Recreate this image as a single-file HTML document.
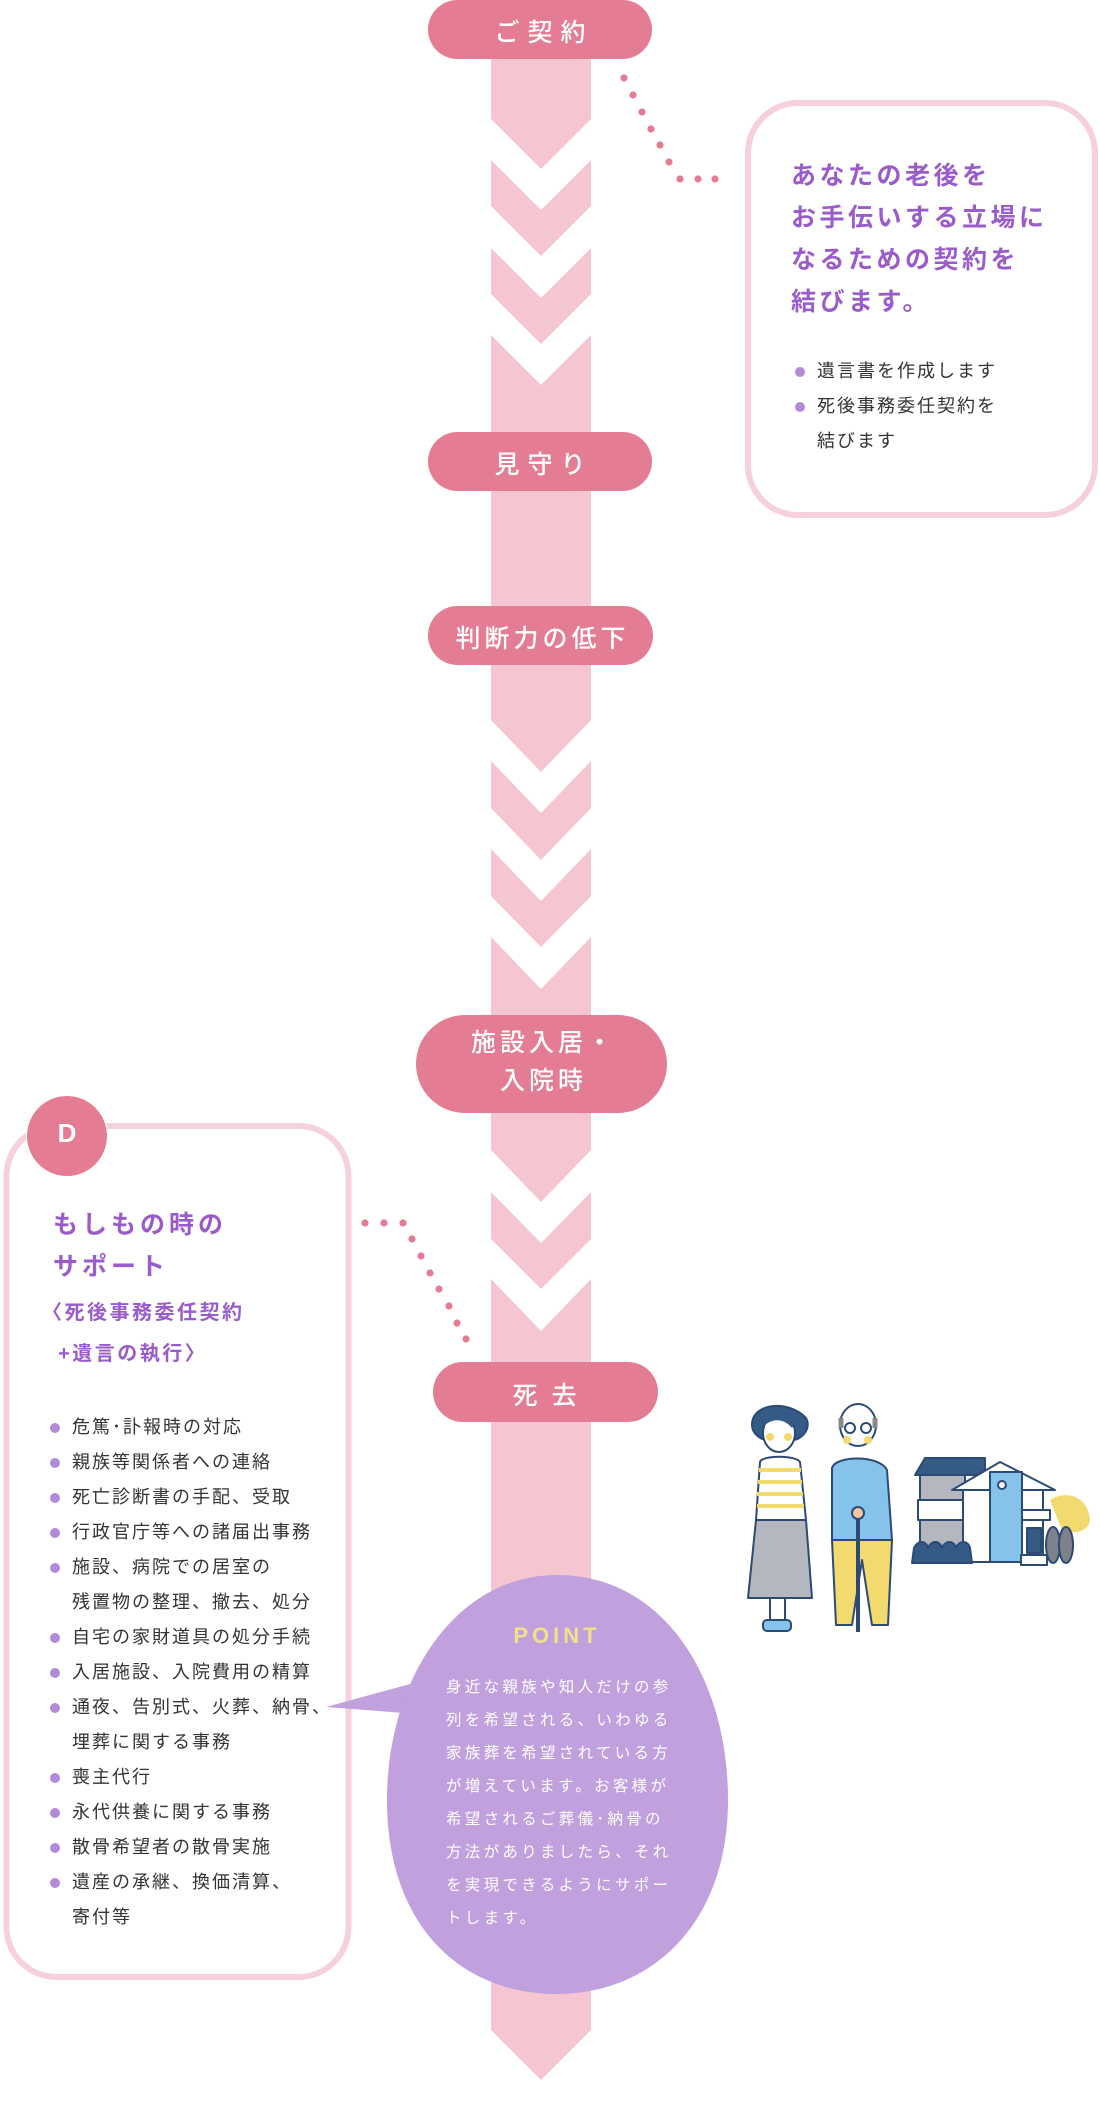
<!DOCTYPE html>
<html><head><meta charset="utf-8"><style>
html,body{margin:0;padding:0;background:#fff;}
body{width:1100px;height:2122px;position:relative;overflow:hidden;font-family:"Liberation Sans","Noto Sans CJK JP",sans-serif;}
svg{position:absolute;left:0;top:0;}
.t{position:absolute;white-space:nowrap;}
.pill{position:absolute;color:#fff;font-weight:500;font-size:25px;text-align:center;}
.h{color:#9a5cca;font-weight:700;}
.list{position:absolute;font-size:18px;letter-spacing:2px;color:#333;line-height:35px;white-space:nowrap;}
.list div{position:relative;}
.list div.b:before{content:"";position:absolute;left:-22px;top:13px;width:10px;height:10px;border-radius:50%;background:#b18bd9;}
.pt{position:absolute;left:446px;width:240px;color:#fff;font-size:15.5px;letter-spacing:3.3px;white-space:nowrap;}
</style></head><body>
<svg width="1100" height="2122" viewBox="0 0 1100 2122">
<g fill="#f5c6d2">
<polygon points="491,30 591,30 591,119 541,169 491,119"/>
<polygon points="491,160 541,210 591,160 591,206 541,256 491,206"/>
<polygon points="491,248 541,298 591,248 591,294 541,344 491,294"/>
<polygon points="491,335 541,385 591,335 591,640 491,640"/>
<polygon points="491,640 591,640 591,720 541,772 491,720"/>
<polygon points="491,761 541,813 591,761 591,808 541,860 491,808"/>
<polygon points="491,849 541,901 591,849 591,896 541,947 491,896"/>
<polygon points="491,937 541,989 591,937 591,1040 491,1040"/>
<polygon points="491,1100 591,1100 591,1150 541,1202 491,1150"/>
<polygon points="491,1192 541,1243 591,1192 591,1239 541,1289 491,1239"/>
<polygon points="491,1279 541,1331 591,1279 591,2030 541,2080 491,2030"/>
</g>
<g fill="#e47d93">
<rect x="428" y="0" width="224" height="59" rx="29.5"/>
<rect x="428" y="432" width="224" height="59" rx="29.5"/>
<rect x="428" y="606" width="225" height="59" rx="29.5"/>
<rect x="416" y="1015" width="251" height="98" rx="49"/>
<rect x="433" y="1362" width="225" height="60" rx="30"/>
<circle cx="624" cy="78" r="3.6"/><circle cx="633" cy="95" r="3.6"/><circle cx="642" cy="112" r="3.6"/><circle cx="651" cy="129" r="3.6"/><circle cx="660" cy="145" r="3.6"/><circle cx="669" cy="162" r="3.6"/>
<circle cx="680" cy="179" r="3.6"/><circle cx="698" cy="179" r="3.6"/><circle cx="715" cy="179" r="3.6"/>
<circle cx="365" cy="1223" r="3.6"/><circle cx="384" cy="1223" r="3.6"/><circle cx="403" cy="1223" r="3.6"/>
<circle cx="412" cy="1239" r="3.6"/><circle cx="421" cy="1256" r="3.6"/><circle cx="430" cy="1273" r="3.6"/><circle cx="439" cy="1289" r="3.6"/><circle cx="449" cy="1306" r="3.6"/><circle cx="457" cy="1323" r="3.6"/><circle cx="466" cy="1339" r="3.6"/>
</g>
<rect x="748" y="103" width="347" height="412" rx="50" fill="#fff" stroke="#f6d0da" stroke-width="6"/>
<rect x="6.5" y="1126" width="342" height="851" rx="50" fill="#fff" stroke="#f6d0da" stroke-width="6"/>
<circle cx="67" cy="1136" r="41" fill="#fff"/>
<circle cx="67" cy="1136" r="40" fill="#e47d93"/>
<polygon points="326,1707 410,1684 404,1713" fill="#c0a0dd"/>
<path d="M557,1575 C665,1575 728,1680 728,1800 C728,1925 650,1994 557,1994 C460,1994 387,1925 387,1800 C387,1680 455,1575 557,1575 Z" fill="#c0a0dd"/>
<g stroke="#2d4a75" stroke-width="2" stroke-linejoin="round">
<path d="M752,1425 C752,1402 790,1400 806,1418 C812,1430 800,1440 793,1440 L768,1440 C760,1440 752,1433 752,1425Z" fill="#345a86"/>
<ellipse cx="779" cy="1433" rx="16" ry="19" fill="#fff"/>
<path d="M764,1420 C770,1408 792,1408 796,1422 L792,1428 C784,1418 772,1418 764,1426Z" fill="#345a86" stroke="none"/>
<circle cx="770" cy="1437" r="4" fill="#f2da6e" stroke="none"/><circle cx="788" cy="1437" r="4" fill="#f2da6e" stroke="none"/>
<path d="M760,1462 C762,1455 796,1455 800,1462 L806,1520 L756,1520Z" fill="#fff"/>
<g stroke="#f2da6e" stroke-width="4"><line x1="759" y1="1470" x2="801" y2="1470"/><line x1="758" y1="1482" x2="802" y2="1482"/><line x1="757" y1="1494" x2="803" y2="1494"/><line x1="757" y1="1506" x2="804" y2="1506"/></g>
<path d="M756,1520 L806,1520 L812,1598 L748,1598Z" fill="#b4b8be"/>
<line x1="770" y1="1598" x2="770" y2="1622" /><line x1="785" y1="1598" x2="785" y2="1622"/>
<rect x="763" y="1620" width="28" height="11" rx="4" fill="#86c3ea"/>
<ellipse cx="858" cy="1425" rx="18" ry="21" fill="#fff"/>
<path d="M841,1418 L841,1428 M875,1418 L875,1428" stroke="#888" stroke-width="5"/>
<circle cx="850" cy="1428" r="5" fill="none"/><circle cx="866" cy="1428" r="5" fill="none"/>
<circle cx="847" cy="1440" r="4" fill="#f2da6e" stroke="none"/><circle cx="868" cy="1440" r="4" fill="#f2da6e" stroke="none"/>
<path d="M832,1468 C836,1455 880,1455 887,1470 L892,1540 L832,1540Z" fill="#86c3ea"/>
<path d="M832,1540 L892,1540 L888,1625 L872,1625 L862,1560 L852,1625 L836,1625Z" fill="#f2da6e"/>
<line x1="858" y1="1515" x2="858" y2="1632" stroke-width="4"/>
<circle cx="858" cy="1513" r="6" fill="#f4c7a0"/>
<polygon points="915,1475 925,1458 985,1458 985,1475" fill="#345a86"/>
<rect x="920" y="1475" width="45" height="80" fill="#b4b8be"/>
<rect x="918" y="1500" width="45" height="20" fill="#fff"/>
<polygon points="952,1490 1000,1462 1055,1490" fill="#fff"/>
<rect x="963" y="1490" width="80" height="72" fill="#fff"/>
<rect x="990" y="1472" width="32" height="90" fill="#86c3ea"/>
<circle cx="1002" cy="1485" r="4" fill="#fff"/>
<rect x="1022" y="1510" width="28" height="10" fill="#fff"/>
<rect x="1027" y="1528" width="14" height="25" fill="#345a86"/>
<rect x="1021" y="1555" width="26" height="10" fill="#fff"/>
<path d="M1050,1500 C1065,1490 1088,1495 1090,1520 C1088,1532 1075,1535 1062,1530Z" fill="#f2da6e" stroke="none"/>
<ellipse cx="1053" cy="1545" rx="7" ry="18" fill="#7d8189"/><ellipse cx="1066" cy="1545" rx="7" ry="18" fill="#7d8189"/>
<path d="M914,1548 c4,-8 12,-8 14,0 c3,-8 12,-8 14,0 c3,-8 12,-8 14,0 c3,-8 12,-8 14,0 l2,15 l-60,0Z" fill="#345a86"/>
</g>
</svg>

<div class="pill" style="left:432px;top:13px;width:224px;letter-spacing:8px;">ご契約</div>
<div class="pill" style="left:432px;top:445px;width:224px;letter-spacing:8px;">見守り</div>
<div class="pill" style="left:430px;top:619px;width:225px;letter-spacing:4px;">判断力の低下</div>
<div class="pill" style="left:418px;top:1024px;width:251px;line-height:38px;letter-spacing:4px;">施設入居・<br>入院時</div>
<div class="pill" style="left:439px;top:1376px;width:225px;letter-spacing:14px;">死去</div>
<div class="t" style="left:55px;top:1118px;width:24px;text-align:center;color:#fff;font-weight:700;font-size:26px;">D</div>

<div class="t h" style="left:791px;top:155px;font-size:25px;line-height:42px;letter-spacing:3.5px;">あなたの老後を<br>お手伝いする立場に<br>なるための契約を<br>結びます。</div>
<div class="list" style="left:817px;top:354px;">
<div class="b">遺言書を作成します</div>
<div class="b">死後事務委任契約を</div>
<div>結びます</div>
</div>

<div class="t h" style="left:53px;top:1204px;font-size:25px;line-height:42px;letter-spacing:4px;">もしもの時の<br>サポート</div>
<div class="t h" style="left:42px;top:1293px;font-size:20px;line-height:41px;letter-spacing:2.5px;">〈死後事務委任契約<br>&nbsp;&nbsp;+遺言の執行〉</div>

<div class="list" style="left:72px;top:1410px;">
<div class="b">危篤･訃報時の対応</div>
<div class="b">親族等関係者への連絡</div>
<div class="b">死亡診断書の手配、受取</div>
<div class="b">行政官庁等への諸届出事務</div>
<div class="b">施設、病院での居室の</div>
<div>残置物の整理、撤去、処分</div>
<div class="b">自宅の家財道具の処分手続</div>
<div class="b">入居施設、入院費用の精算</div>
<div class="b">通夜、告別式、火葬、納骨、</div>
<div>埋葬に関する事務</div>
<div class="b">喪主代行</div>
<div class="b">永代供養に関する事務</div>
<div class="b">散骨希望者の散骨実施</div>
<div class="b">遺産の承継、換価清算、</div>
<div>寄付等</div>
</div>

<div class="t" style="left:457px;top:1623px;width:200px;text-align:center;color:#f3e08a;font-weight:700;font-size:22px;letter-spacing:4px;">POINT</div>
<div class="pt" style="top:1671px;line-height:33px;">身近な親族や知人だけの参<br>列を希望される、いわゆる<br>家族葬を希望されている方<br>が増えています。お客様が<br>希望されるご葬儀･納骨の<br>方法がありましたら、それ<br>を実現できるようにサポー<br>トします。</div>
</body></html>
